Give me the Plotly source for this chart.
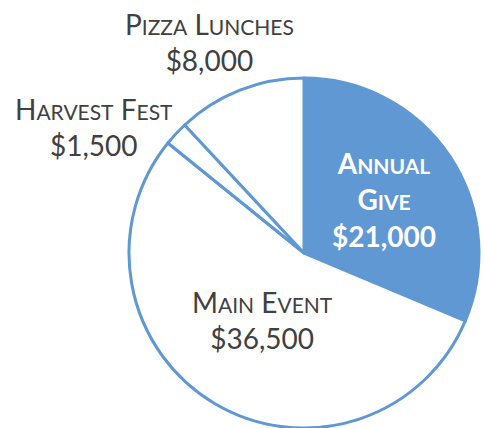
import plotly.graph_objects as go

labels = ["Annual Give", "Main Event", "Harvest Fest", "Pizza Lunches"]
values = [21000, 36500, 1500, 8000]
fills = ["#5F98D2", "#FFFFFF", "#FFFFFF", "#FFFFFF"]

W, H = 484, 428
BLUE = "#5F98D2"
GRAY = "#404040"
BIG, SMALL = 28, 21


def small_caps(text, small):
    out = []
    for word in text.split(" "):
        out.append(word[0].upper() + '<span style="font-size:%dpx">%s</span>' % (small, word[1:].upper()))
    return " ".join(out)


def money(v):
    return "${:,}".format(v)


fig = go.Figure(go.Pie(
    labels=labels,
    values=values,
    sort=False,
    direction="clockwise",
    rotation=0,
    marker=dict(colors=fills, line=dict(color=BLUE, width=3)),
    textinfo="none",
    hoverinfo="none",
    showlegend=False,
    domain=dict(x=[129 / W, 479 / W], y=[0, 350 / H]),
))

# label anchor pixel positions (centre of text block)
label_pos = {
    "Annual Give": (384, 199),
    "Main Event": (262, 320),
    "Harvest Fest": (94, 127),
    "Pizza Lunches": (209, 42),
}

annotations = []
for lab, val in zip(labels, values):
    px, py = label_pos[lab]
    if lab == "Annual Give":
        words = lab.split(" ")
        txt = "<b>" + small_caps(words[0], SMALL) + "<br>" + small_caps(words[1], SMALL) + "<br>" + money(val) + "</b>"
        color = "#FFFFFF"
    else:
        txt = small_caps(lab, SMALL) + "<br>" + money(val)
        color = GRAY
    annotations.append(dict(
        x=px / W, y=1 - py / H, xref="paper", yref="paper",
        text=txt, showarrow=False, xanchor="center", yanchor="middle",
        align="center", font=dict(family="Lato", size=BIG, color=color),
    ))

fig.update_layout(
    width=W, height=H,
    margin=dict(l=0, r=0, t=0, b=0),
    paper_bgcolor="white",
    plot_bgcolor="white",
    annotations=annotations,
)

fig.write_html("out.html")
